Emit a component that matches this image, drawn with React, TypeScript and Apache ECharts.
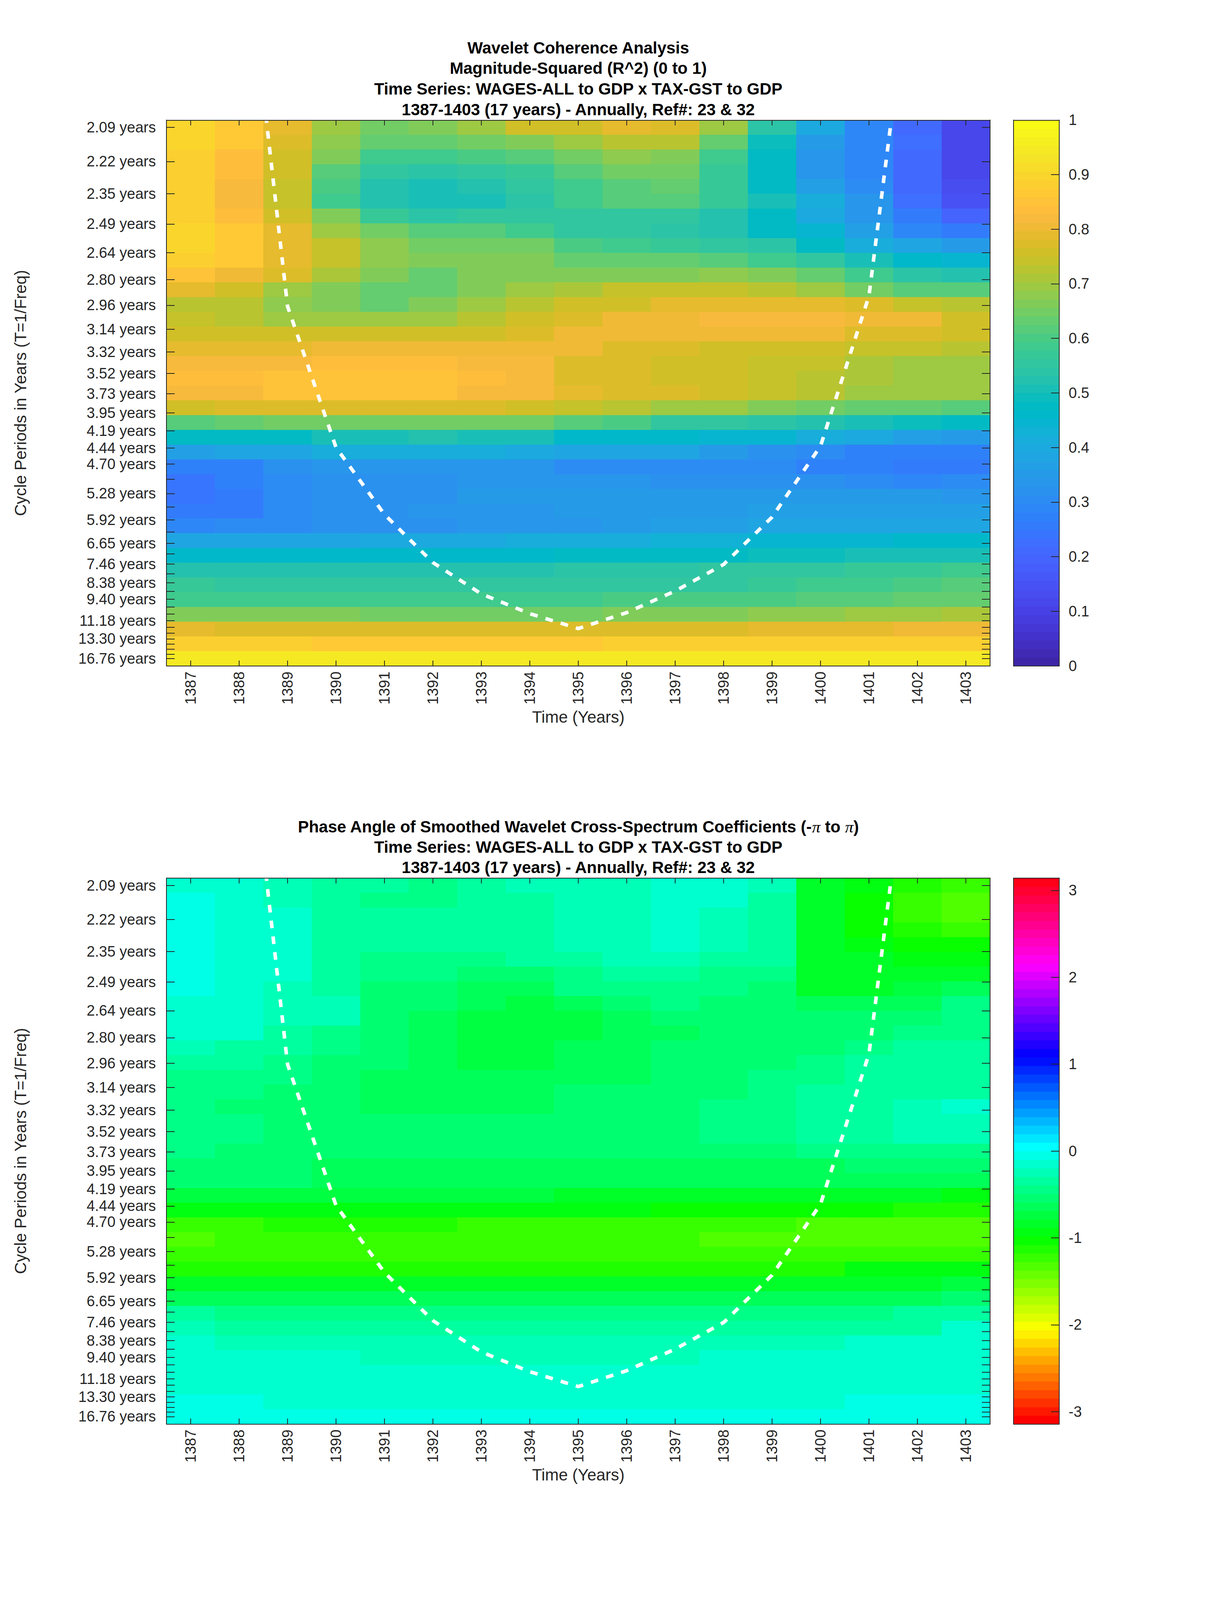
import React, { useEffect, useRef } from 'react';
import * as echarts from 'echarts';

// ---------- data ----------
const YEARS = [1387, 1388, 1389, 1390, 1391, 1392, 1393, 1394, 1395, 1396, 1397, 1398, 1399, 1400, 1401, 1402, 1403];

// wavelet scale periods (years), top (short) to bottom (long)
const PERIODS = [
  2.0945, 2.2190, 2.3510, 2.4908, 2.6389, 2.7958, 2.9621, 3.1382, 3.3248, 3.5225,
  3.7320, 3.9539, 4.1890, 4.4381, 4.7020, 4.9816, 5.2778, 5.5917, 5.9241, 6.2764,
  6.6497, 7.0450, 7.4640, 7.9080, 8.3780, 8.8762, 9.4041, 9.9634, 10.5556, 11.1833,
  11.8483, 12.5528, 13.2993, 14.0901, 14.9279, 15.8157, 16.7560,
];
// indices of the periods that carry a tick label
const LABELED = [0, 1, 2, 3, 4, 5, 6, 7, 8, 9, 10, 11, 12, 13, 14, 16, 18, 20, 22, 24, 26, 29, 32, 36];

const COH_TICKS = [0, 0.1, 0.2, 0.3, 0.4, 0.5, 0.6, 0.7, 0.8, 0.9, 1];
const PHASE_TICKS = [-3, -2, -1, 0, 1, 2, 3];

// cone of influence (period in years at each time)
const COI_YEARS = [1387, 1388, 1389, 1390, 1391, 1392, 1393, 1394, 1395, 1396, 1397, 1398, 1399, 1400, 1401, 1402, 1403];
const COI_PERIODS = [0.75, 1.49, 2.97, 4.43, 5.78, 7.40, 9.05, 10.53, 12.01, 10.44, 8.87, 7.48, 5.85, 4.41, 2.90, 1.55, 0.78];

// magnitude-squared coherence, rows = periods (top to bottom), cols = years
const COHERENCE = [
  [0.90, 0.86, 0.79, 0.70, 0.65, 0.67, 0.70, 0.75, 0.76, 0.79, 0.77, 0.70, 0.54, 0.40, 0.29, 0.21, 0.12],
  [0.90, 0.86, 0.77, 0.68, 0.63, 0.63, 0.65, 0.67, 0.70, 0.72, 0.72, 0.63, 0.49, 0.35, 0.29, 0.22, 0.12],
  [0.89, 0.84, 0.76, 0.67, 0.58, 0.58, 0.60, 0.62, 0.65, 0.68, 0.67, 0.59, 0.47, 0.34, 0.29, 0.21, 0.12],
  [0.89, 0.84, 0.76, 0.62, 0.55, 0.54, 0.55, 0.57, 0.61, 0.65, 0.65, 0.57, 0.47, 0.34, 0.29, 0.21, 0.12],
  [0.89, 0.82, 0.74, 0.60, 0.53, 0.51, 0.52, 0.56, 0.59, 0.61, 0.63, 0.57, 0.48, 0.37, 0.31, 0.21, 0.13],
  [0.89, 0.82, 0.74, 0.59, 0.53, 0.50, 0.51, 0.54, 0.58, 0.61, 0.61, 0.57, 0.51, 0.42, 0.34, 0.23, 0.15],
  [0.89, 0.84, 0.76, 0.66, 0.57, 0.54, 0.56, 0.56, 0.56, 0.56, 0.56, 0.53, 0.48, 0.40, 0.34, 0.25, 0.19],
  [0.90, 0.86, 0.79, 0.70, 0.65, 0.61, 0.61, 0.59, 0.56, 0.55, 0.54, 0.53, 0.47, 0.45, 0.36, 0.29, 0.26],
  [0.90, 0.87, 0.79, 0.74, 0.68, 0.65, 0.65, 0.65, 0.60, 0.58, 0.57, 0.55, 0.54, 0.48, 0.42, 0.38, 0.35],
  [0.89, 0.86, 0.79, 0.74, 0.68, 0.67, 0.67, 0.67, 0.63, 0.63, 0.63, 0.61, 0.59, 0.56, 0.51, 0.46, 0.45],
  [0.85, 0.80, 0.77, 0.71, 0.66, 0.64, 0.67, 0.67, 0.67, 0.67, 0.67, 0.68, 0.66, 0.63, 0.59, 0.54, 0.53],
  [0.79, 0.76, 0.70, 0.67, 0.64, 0.64, 0.67, 0.69, 0.71, 0.74, 0.74, 0.74, 0.73, 0.69, 0.65, 0.62, 0.62],
  [0.73, 0.72, 0.68, 0.66, 0.64, 0.67, 0.69, 0.72, 0.75, 0.76, 0.79, 0.79, 0.79, 0.79, 0.77, 0.74, 0.72],
  [0.74, 0.72, 0.70, 0.70, 0.70, 0.70, 0.73, 0.75, 0.77, 0.80, 0.80, 0.82, 0.82, 0.82, 0.81, 0.80, 0.76],
  [0.75, 0.75, 0.75, 0.75, 0.75, 0.76, 0.76, 0.77, 0.80, 0.80, 0.80, 0.80, 0.80, 0.80, 0.78, 0.77, 0.75],
  [0.79, 0.79, 0.79, 0.80, 0.80, 0.80, 0.80, 0.80, 0.80, 0.78, 0.77, 0.76, 0.75, 0.75, 0.74, 0.74, 0.72],
  [0.82, 0.82, 0.82, 0.84, 0.84, 0.84, 0.82, 0.82, 0.78, 0.77, 0.76, 0.76, 0.74, 0.74, 0.71, 0.70, 0.70],
  [0.83, 0.83, 0.85, 0.85, 0.85, 0.85, 0.83, 0.82, 0.78, 0.77, 0.75, 0.75, 0.74, 0.72, 0.71, 0.70, 0.70],
  [0.82, 0.82, 0.85, 0.85, 0.85, 0.85, 0.82, 0.82, 0.79, 0.78, 0.77, 0.75, 0.74, 0.72, 0.70, 0.70, 0.69],
  [0.75, 0.77, 0.77, 0.77, 0.77, 0.77, 0.77, 0.76, 0.74, 0.72, 0.70, 0.69, 0.67, 0.65, 0.63, 0.63, 0.61],
  [0.61, 0.64, 0.65, 0.65, 0.65, 0.65, 0.65, 0.65, 0.62, 0.60, 0.56, 0.55, 0.54, 0.52, 0.50, 0.49, 0.48],
  [0.47, 0.47, 0.48, 0.50, 0.50, 0.52, 0.50, 0.50, 0.46, 0.46, 0.46, 0.45, 0.44, 0.41, 0.40, 0.37, 0.35],
  [0.36, 0.38, 0.38, 0.41, 0.41, 0.41, 0.41, 0.40, 0.38, 0.38, 0.38, 0.35, 0.32, 0.30, 0.27, 0.27, 0.27],
  [0.28, 0.27, 0.32, 0.33, 0.33, 0.33, 0.33, 0.34, 0.31, 0.31, 0.31, 0.31, 0.30, 0.28, 0.27, 0.25, 0.25],
  [0.24, 0.27, 0.30, 0.32, 0.32, 0.32, 0.33, 0.33, 0.34, 0.34, 0.32, 0.32, 0.32, 0.32, 0.30, 0.29, 0.30],
  [0.24, 0.25, 0.30, 0.32, 0.32, 0.32, 0.35, 0.35, 0.35, 0.35, 0.35, 0.35, 0.35, 0.35, 0.35, 0.35, 0.33],
  [0.26, 0.26, 0.30, 0.32, 0.32, 0.34, 0.34, 0.34, 0.35, 0.35, 0.35, 0.35, 0.37, 0.37, 0.37, 0.37, 0.37],
  [0.29, 0.30, 0.30, 0.32, 0.32, 0.32, 0.34, 0.34, 0.34, 0.35, 0.37, 0.37, 0.39, 0.39, 0.39, 0.39, 0.39],
  [0.39, 0.39, 0.39, 0.39, 0.40, 0.40, 0.40, 0.41, 0.41, 0.41, 0.43, 0.43, 0.45, 0.45, 0.45, 0.46, 0.46],
  [0.46, 0.46, 0.46, 0.46, 0.46, 0.46, 0.46, 0.46, 0.47, 0.47, 0.47, 0.48, 0.49, 0.49, 0.51, 0.51, 0.51],
  [0.52, 0.52, 0.52, 0.52, 0.52, 0.52, 0.52, 0.52, 0.54, 0.54, 0.54, 0.55, 0.56, 0.56, 0.57, 0.57, 0.59],
  [0.57, 0.55, 0.55, 0.55, 0.55, 0.55, 0.55, 0.55, 0.56, 0.56, 0.56, 0.56, 0.57, 0.58, 0.58, 0.60, 0.61],
  [0.59, 0.59, 0.58, 0.58, 0.58, 0.58, 0.58, 0.58, 0.58, 0.60, 0.60, 0.60, 0.60, 0.61, 0.62, 0.64, 0.64],
  [0.67, 0.67, 0.67, 0.67, 0.65, 0.65, 0.65, 0.65, 0.65, 0.67, 0.67, 0.67, 0.68, 0.68, 0.70, 0.70, 0.71],
  [0.79, 0.77, 0.77, 0.77, 0.77, 0.77, 0.77, 0.77, 0.77, 0.77, 0.77, 0.77, 0.79, 0.79, 0.79, 0.81, 0.81],
  [0.88, 0.88, 0.88, 0.87, 0.87, 0.87, 0.87, 0.87, 0.87, 0.88, 0.88, 0.88, 0.88, 0.88, 0.88, 0.88, 0.89],
  [0.94, 0.94, 0.94, 0.94, 0.94, 0.94, 0.94, 0.94, 0.94, 0.94, 0.94, 0.94, 0.94, 0.94, 0.94, 0.94, 0.94],
];

// phase angle (radians), rows = periods (top to bottom), cols = years
const PHASE = [
  [-0.16, -0.18, -0.23, -0.35, -0.35, -0.44, -0.31, -0.27, -0.25, -0.23, -0.16, -0.16, -0.23, -0.80, -0.96, -1.08, -1.20],
  [-0.03, -0.14, -0.23, -0.31, -0.40, -0.40, -0.35, -0.35, -0.25, -0.23, -0.16, -0.16, -0.35, -0.80, -1.00, -1.22, -1.33],
  [-0.03, -0.12, -0.16, -0.31, -0.37, -0.37, -0.37, -0.37, -0.27, -0.27, -0.16, -0.29, -0.35, -0.80, -1.00, -1.20, -1.33],
  [-0.03, -0.12, -0.16, -0.31, -0.37, -0.37, -0.37, -0.37, -0.27, -0.27, -0.16, -0.29, -0.35, -0.82, -1.00, -1.12, -1.20],
  [-0.03, -0.12, -0.16, -0.33, -0.37, -0.37, -0.37, -0.37, -0.27, -0.27, -0.16, -0.29, -0.35, -0.85, -0.92, -1.00, -1.05],
  [-0.03, -0.12, -0.16, -0.33, -0.40, -0.47, -0.47, -0.35, -0.31, -0.29, -0.29, -0.31, -0.35, -0.83, -0.88, -0.96, -0.96],
  [-0.05, -0.12, -0.16, -0.35, -0.42, -0.47, -0.58, -0.56, -0.40, -0.37, -0.37, -0.40, -0.44, -0.80, -0.83, -0.88, -0.88],
  [-0.07, -0.16, -0.29, -0.33, -0.52, -0.54, -0.66, -0.64, -0.47, -0.44, -0.40, -0.47, -0.52, -0.82, -0.80, -0.76, -0.64],
  [-0.16, -0.16, -0.29, -0.29, -0.54, -0.56, -0.68, -0.72, -0.64, -0.52, -0.47, -0.50, -0.56, -0.68, -0.66, -0.62, -0.47],
  [-0.16, -0.16, -0.29, -0.29, -0.58, -0.60, -0.70, -0.70, -0.72, -0.60, -0.54, -0.54, -0.54, -0.54, -0.56, -0.52, -0.44],
  [-0.18, -0.18, -0.35, -0.44, -0.58, -0.62, -0.70, -0.70, -0.70, -0.64, -0.60, -0.54, -0.54, -0.54, -0.52, -0.47, -0.40],
  [-0.23, -0.33, -0.37, -0.45, -0.58, -0.64, -0.70, -0.70, -0.60, -0.60, -0.54, -0.52, -0.52, -0.50, -0.44, -0.37, -0.35],
  [-0.31, -0.31, -0.40, -0.50, -0.56, -0.64, -0.70, -0.70, -0.64, -0.60, -0.52, -0.52, -0.52, -0.40, -0.37, -0.35, -0.31],
  [-0.40, -0.40, -0.47, -0.52, -0.64, -0.64, -0.64, -0.64, -0.64, -0.60, -0.50, -0.50, -0.44, -0.44, -0.37, -0.33, -0.33],
  [-0.44, -0.44, -0.52, -0.52, -0.64, -0.64, -0.64, -0.64, -0.56, -0.56, -0.52, -0.52, -0.44, -0.35, -0.35, -0.35, -0.31],
  [-0.47, -0.54, -0.52, -0.52, -0.64, -0.64, -0.64, -0.64, -0.52, -0.52, -0.52, -0.44, -0.40, -0.31, -0.31, -0.23, -0.16],
  [-0.47, -0.47, -0.52, -0.52, -0.54, -0.54, -0.54, -0.54, -0.52, -0.52, -0.52, -0.44, -0.40, -0.35, -0.33, -0.27, -0.27],
  [-0.45, -0.45, -0.52, -0.52, -0.52, -0.52, -0.52, -0.52, -0.52, -0.52, -0.52, -0.44, -0.40, -0.37, -0.33, -0.29, -0.29],
  [-0.44, -0.52, -0.52, -0.54, -0.54, -0.54, -0.54, -0.54, -0.54, -0.54, -0.54, -0.54, -0.52, -0.44, -0.47, -0.47, -0.47],
  [-0.50, -0.50, -0.50, -0.64, -0.64, -0.64, -0.64, -0.64, -0.64, -0.64, -0.64, -0.64, -0.64, -0.64, -0.52, -0.52, -0.52],
  [-0.52, -0.52, -0.52, -0.66, -0.66, -0.66, -0.66, -0.66, -0.66, -0.66, -0.66, -0.66, -0.66, -0.66, -0.66, -0.66, -0.64],
  [-0.74, -0.74, -0.74, -0.74, -0.74, -0.74, -0.74, -0.74, -0.82, -0.82, -0.82, -0.82, -0.82, -0.82, -0.82, -0.82, -0.92],
  [-0.92, -0.92, -0.92, -0.92, -0.92, -0.92, -0.92, -0.92, -0.92, -0.92, -1.00, -1.00, -1.00, -1.00, -1.00, -1.16, -1.16],
  [-1.25, -1.25, -1.08, -1.08, -1.08, -1.08, -1.20, -1.20, -1.20, -1.20, -1.20, -1.20, -1.20, -1.31, -1.31, -1.31, -1.31],
  [-1.37, -1.25, -1.22, -1.22, -1.22, -1.22, -1.22, -1.22, -1.22, -1.22, -1.22, -1.33, -1.33, -1.33, -1.33, -1.33, -1.33],
  [-1.18, -1.18, -1.18, -1.18, -1.18, -1.18, -1.18, -1.18, -1.18, -1.18, -1.18, -1.18, -1.18, -1.18, -1.18, -1.18, -1.18],
  [-1.08, -1.08, -1.08, -1.08, -1.08, -1.08, -1.08, -1.08, -1.08, -1.08, -1.08, -1.08, -1.08, -1.08, -0.96, -0.96, -0.96],
  [-0.80, -0.80, -0.80, -0.85, -0.85, -0.85, -0.85, -0.85, -0.85, -0.85, -0.85, -0.80, -0.80, -0.80, -0.80, -0.80, -0.72],
  [-0.60, -0.60, -0.60, -0.60, -0.68, -0.68, -0.68, -0.68, -0.68, -0.68, -0.68, -0.62, -0.62, -0.62, -0.62, -0.62, -0.52],
  [-0.31, -0.40, -0.40, -0.40, -0.40, -0.40, -0.40, -0.40, -0.40, -0.40, -0.40, -0.40, -0.40, -0.40, -0.40, -0.33, -0.33],
  [-0.25, -0.31, -0.31, -0.31, -0.31, -0.31, -0.31, -0.31, -0.31, -0.31, -0.31, -0.31, -0.31, -0.31, -0.31, -0.31, -0.16],
  [-0.16, -0.25, -0.25, -0.25, -0.25, -0.25, -0.25, -0.25, -0.25, -0.25, -0.25, -0.25, -0.25, -0.25, -0.16, -0.16, -0.16],
  [-0.16, -0.16, -0.16, -0.16, -0.25, -0.25, -0.25, -0.25, -0.25, -0.25, -0.25, -0.16, -0.16, -0.16, -0.16, -0.16, -0.16],
  [-0.16, -0.16, -0.16, -0.16, -0.16, -0.16, -0.16, -0.16, -0.16, -0.16, -0.16, -0.16, -0.16, -0.16, -0.16, -0.16, -0.16],
  [-0.16, -0.16, -0.16, -0.16, -0.16, -0.16, -0.16, -0.16, -0.16, -0.16, -0.16, -0.16, -0.16, -0.16, -0.16, -0.16, -0.16],
  [-0.07, -0.07, -0.16, -0.16, -0.16, -0.16, -0.16, -0.16, -0.16, -0.16, -0.16, -0.16, -0.16, -0.16, -0.07, -0.07, -0.07],
  [-0.09, -0.09, -0.09, -0.09, -0.09, -0.09, -0.09, -0.09, -0.09, -0.09, -0.09, -0.09, -0.09, -0.09, -0.09, -0.09, -0.09],
];

// parula (64 colours)
const PARULA = [
  '#3e26a8', '#402ab4', '#422ec0', '#4332cb', '#4537d5', '#463cde', '#4741e5', '#4747eb',
  '#484df0', '#4852f4', '#4758f8', '#465efb', '#4563fd', '#4269fe', '#3e6fff', '#3875fe',
  '#327cfc', '#2f81fa', '#2e87f7', '#2d8cf3', '#2b91ef', '#2796eb', '#259be8', '#23a0e5',
  '#20a5e3', '#1ca9df', '#18addb', '#12b1d6', '#08b5d0', '#01b8ca', '#02bac3', '#0bbdbd',
  '#19bfb6', '#24c1ae', '#2cc4a7', '#31c69f', '#37c897', '#3fca8e', '#4acb84', '#57cc7a',
  '#64cd6f', '#72cd64', '#81cc59', '#8fcb4e', '#9dc943', '#abc739', '#b9c431', '#c5c22a',
  '#d1bf27', '#dcbd29', '#e6bb2d', '#f0ba36', '#f8ba3d', '#febe3c', '#fec338', '#fec934',
  '#fccf30', '#fad62d', '#f7dc2a', '#f5e327', '#f5e924', '#f6ef20', '#f7f51b', '#f9fb15',
];

// ---------- layout (reference figure pixels, scaled to the real window) ----------
const REF_W = 3125;
const REF_H = 6252;
const PLOT_L = 426;
const PLOT_W = 2108;
const PLOT_H = 2133;
const TOP1 = 469;
const TOP2 = 3431;
const CB_L = 2594;
const CB_W = 117;
const FONT = '"Liberation Sans", Arial, Helvetica, sans-serif';
const AXC = '#262626';

function hsvHex(h: number): string {
  const i = Math.floor(h * 6) % 6;
  const f = h * 6 - Math.floor(h * 6);
  const q = 1 - f;
  let r = 0, g = 0, b = 0;
  if (i === 0) { r = 1; g = f; b = 0; }
  else if (i === 1) { r = q; g = 1; b = 0; }
  else if (i === 2) { r = 0; g = 1; b = f; }
  else if (i === 3) { r = 0; g = q; b = 1; }
  else if (i === 4) { r = f; g = 0; b = 1; }
  else { r = 1; g = 0; b = q; }
  const hx = (v: number) => Math.round(v * 255).toString(16).padStart(2, '0');
  return '#' + hx(r) + hx(g) + hx(b);
}

export default function App() {
  const ref = useRef<HTMLDivElement>(null);
  const vw = typeof window !== 'undefined' ? Math.min(window.innerWidth || REF_W, REF_W) : REF_W;
  const vh = typeof window !== 'undefined' ? Math.min(window.innerHeight || REF_H, REF_H) : REF_H;

  useEffect(() => {
    if (!ref.current) return;
    const chart = echarts.init(ref.current, null, { renderer: 'svg' });

    const sx = vw / REF_W;
    const sy = vh / REF_H;
    const X = (v: number) => v * sx;
    const Y = (v: number) => v * sy;
    const F = (v: number) => v * sy;

    const freqs = PERIODS.map((p) => 1 / p);
    const f0 = freqs[0];
    const fN = freqs[freqs.length - 1];
    const rowH = (f0 - fN) / (PERIODS.length - 1);
    const fMax = f0 + rowH / 2;
    const fMin = fN - rowH / 2;
    const labeledFreqs = LABELED.map((i) => freqs[i]);

    const periodLabel = (v: number) => {
      let best = 0;
      for (let i = 1; i < freqs.length; i++) {
        if (Math.abs(freqs[i] - v) < Math.abs(freqs[best] - v)) best = i;
      }
      return PERIODS[best].toFixed(2) + ' years';
    };

    const heatData = (rows: number[][]) => {
      const out: number[][] = [];
      rows.forEach((row, i) => {
        row.forEach((v, j) => {
          out.push([YEARS[j], f0 - i * rowH, v]);
        });
      });
      return out;
    };

    const cbData = (min: number, max: number) => {
      const out: number[][] = [];
      const n = 64;
      for (let j = 0; j < n; j++) {
        const lo = min + (j * (max - min)) / n;
        const hi = min + ((j + 1) * (max - min)) / n;
        out.push([0.5, (lo + hi) / 2, (lo + hi) / 2, lo, hi]);
      }
      return out;
    };

    const heatRender = (params: any, api: any) => {
      const x = api.value(0);
      const y = api.value(1);
      const a = api.coord([x - 0.5, y + rowH / 2]);
      const b = api.coord([x + 0.5, y - rowH / 2]);
      return {
        type: 'rect',
        shape: { x: a[0], y: a[1], width: b[0] - a[0] + 0.8, height: b[1] - a[1] + 0.8 },
        style: { fill: api.visual('color'), stroke: null },
      };
    };

    const cbRender = (params: any, api: any) => {
      const a = api.coord([0, api.value(4)]);
      const b = api.coord([1, api.value(3)]);
      return {
        type: 'rect',
        shape: { x: a[0], y: a[1], width: b[0] - a[0], height: b[1] - a[1] + 0.8 },
        style: { fill: api.visual('color'), stroke: null },
      };
    };

    const lineStyle = { color: AXC, width: 2 };
    const labelStyle = { fontSize: F(58), color: AXC, fontFamily: FONT };

    const heatX = (gridIndex: number, position: string) => ({
      type: 'value',
      gridIndex,
      position,
      min: 1386.5,
      max: 1403.5,
      z: 10,
      axisLine: { show: true, onZero: false, lineStyle },
      axisTick: { show: true, inside: true, length: Y(21), customValues: YEARS, lineStyle },
      axisLabel:
        position === 'bottom'
          ? {
              show: true, customValues: YEARS, rotate: 90, margin: Y(22),
              formatter: (v: number) => String(Math.round(v)), ...labelStyle,
            }
          : { show: false },
      splitLine: { show: false },
    });

    const heatY = (gridIndex: number, position: string) => ({
      type: 'value',
      gridIndex,
      position,
      min: fMin,
      max: fMax,
      z: 10,
      axisLine: { show: true, onZero: false, lineStyle },
      axisTick: { show: true, inside: true, length: X(21), customValues: freqs, lineStyle },
      axisLabel:
        position === 'left'
          ? { show: true, customValues: labeledFreqs, margin: X(27), formatter: periodLabel, ...labelStyle }
          : { show: false },
      splitLine: { show: false },
    });

    const cbX = (gridIndex: number, position: string) => ({
      type: 'value',
      gridIndex,
      position,
      min: 0,
      max: 1,
      z: 10,
      axisLine: { show: true, onZero: false, lineStyle },
      axisTick: { show: false },
      axisLabel: { show: false },
      splitLine: { show: false },
    });

    const cbY = (gridIndex: number, position: string, min: number, max: number, ticks: number[]) => ({
      type: 'value',
      gridIndex,
      position,
      min,
      max,
      z: 10,
      axisLine: { show: true, onZero: false, lineStyle },
      axisTick:
        position === 'right'
          ? { show: true, inside: true, length: X(21), customValues: ticks, lineStyle }
          : { show: false },
      axisLabel:
        position === 'right'
          ? { show: true, customValues: ticks, margin: X(24), formatter: (v: number) => String(v), ...labelStyle }
          : { show: false },
      splitLine: { show: false },
    });

    const coiData = COI_YEARS.map((y, i) => [y, 1 / COI_PERIODS[i]]);
    const coiSeries = (axisIndex: number) => ({
      type: 'line',
      xAxisIndex: axisIndex,
      yAxisIndex: axisIndex,
      data: coiData,
      symbol: 'none',
      clip: true,
      z: 5,
      silent: true,
      lineStyle: { color: '#ffffff', width: Math.max(4, 11 * (sx + sy) / 2), type: [Y(30), Y(32)] },
    });

    const titleText = (text: string, y: number) => ({
      type: 'text',
      x: X(PLOT_L + PLOT_W / 2),
      y: Y(y),
      style: {
        text,
        fill: '#000000',
        fontSize: F(64),
        fontWeight: 'bold',
        fontFamily: FONT,
        textAlign: 'center',
        textVerticalAlign: 'middle',
      },
    });

    const axisNameText = (text: string, x: number, y: number, rotation: number) => ({
      type: 'text',
      x: X(x),
      y: Y(y),
      rotation,
      style: {
        text,
        fill: AXC,
        fontSize: F(64),
        fontFamily: FONT,
        textAlign: 'center',
        textVerticalAlign: 'middle',
      },
    });

    const cohPieces = PARULA.map((c, j) => ({ gte: j / 64, lt: (j + 1) / 64 + (j === 63 ? 1e-9 : 0), color: c }));
    const phasePieces = [] as any[];
    for (let j = 0; j < 64; j++) {
      phasePieces.push({
        gte: -Math.PI + (j * 2 * Math.PI) / 64,
        lt: -Math.PI + ((j + 1) * 2 * Math.PI) / 64 + (j === 63 ? 1e-9 : 0),
        color: hsvHex(j / 64),
      });
    }

    const option: any = {
      animation: false,
      backgroundColor: '#ffffff',
      grid: [
        { left: X(PLOT_L), top: Y(TOP1), width: X(PLOT_W), height: Y(PLOT_H) },
        { left: X(CB_L), top: Y(TOP1), width: X(CB_W), height: Y(PLOT_H) },
        { left: X(PLOT_L), top: Y(TOP2), width: X(PLOT_W), height: Y(PLOT_H) },
        { left: X(CB_L), top: Y(TOP2), width: X(CB_W), height: Y(PLOT_H) },
      ],
      xAxis: [
        heatX(0, 'bottom'), heatX(0, 'top'),
        cbX(1, 'bottom'), cbX(1, 'top'),
        heatX(2, 'bottom'), heatX(2, 'top'),
        cbX(3, 'bottom'), cbX(3, 'top'),
      ],
      yAxis: [
        heatY(0, 'left'), heatY(0, 'right'),
        cbY(1, 'left', 0, 1, COH_TICKS), cbY(1, 'right', 0, 1, COH_TICKS),
        heatY(2, 'left'), heatY(2, 'right'),
        cbY(3, 'left', -Math.PI, Math.PI, PHASE_TICKS), cbY(3, 'right', -Math.PI, Math.PI, PHASE_TICKS),
      ],
      visualMap: [
        { type: 'piecewise', show: false, seriesIndex: [0, 1], dimension: 2, pieces: cohPieces },
        { type: 'piecewise', show: false, seriesIndex: [3, 4], dimension: 2, pieces: phasePieces },
      ],
      series: [
        {
          type: 'custom', xAxisIndex: 0, yAxisIndex: 0, renderItem: heatRender, clip: true,
          dimensions: ['x', 'y', 'v'], encode: { x: 0, y: 1 }, data: heatData(COHERENCE), silent: true,
        },
        {
          type: 'custom', xAxisIndex: 2, yAxisIndex: 2, renderItem: cbRender, clip: true,
          dimensions: ['x', 'y', 'v', 'lo', 'hi'], encode: { x: 0, y: 1 }, data: cbData(0, 1), silent: true,
        },
        coiSeries(0),
        {
          type: 'custom', xAxisIndex: 4, yAxisIndex: 4, renderItem: heatRender, clip: true,
          dimensions: ['x', 'y', 'v'], encode: { x: 0, y: 1 }, data: heatData(PHASE), silent: true,
        },
        {
          type: 'custom', xAxisIndex: 6, yAxisIndex: 6, renderItem: cbRender, clip: true,
          dimensions: ['x', 'y', 'v', 'lo', 'hi'], encode: { x: 0, y: 1 }, data: cbData(-Math.PI, Math.PI), silent: true,
        },
        coiSeries(4),
      ],
      graphic: [
        titleText('Wavelet Coherence Analysis', 187),
        titleText('Magnitude-Squared (R^2) (0 to 1)', 267),
        titleText('Time Series: WAGES-ALL to GDP x TAX-GST to GDP', 348),
        titleText('1387-1403 (17 years) - Annually, Ref#: 23 & 32', 428),
        {
          type: 'text',
          x: X(PLOT_L + PLOT_W / 2),
          y: Y(3230),
          style: {
            text: '{b|Phase Angle of Smoothed Wavelet Cross-Spectrum Coefficients (-}{p|π}{b| to }{p|π}{b|)}',
            textAlign: 'center',
            textVerticalAlign: 'middle',
            rich: {
              b: { fontSize: F(64), fontWeight: 'bold', fontFamily: FONT, fill: '#000000', color: '#000000' },
              p: {
                fontSize: F(66), fontStyle: 'italic', fontFamily: '"Liberation Serif", "DejaVu Serif", serif',
                fill: '#000000', color: '#000000',
              },
            },
          },
        },
        titleText('Time Series: WAGES-ALL to GDP x TAX-GST to GDP', 3310),
        titleText('1387-1403 (17 years) - Annually, Ref#: 23 & 32', 3390),
        axisNameText('Cycle Periods in Years (T=1/Freq)', 52, TOP1 + PLOT_H / 2, Math.PI / 2),
        axisNameText('Cycle Periods in Years (T=1/Freq)', 52, TOP2 + PLOT_H / 2, Math.PI / 2),
        axisNameText('Time (Years)', PLOT_L + PLOT_W / 2, TOP1 + PLOT_H + 199, 0),
        axisNameText('Time (Years)', PLOT_L + PLOT_W / 2, TOP2 + PLOT_H + 199, 0),
      ],
    };

    chart.setOption(option);
    return () => chart.dispose();
  }, [vw, vh]);

  return (
    <div
      ref={ref}
      style={{ position: 'absolute', left: 0, top: 0, width: vw, height: vh, background: '#ffffff', overflow: 'hidden' }}
    />
  );
}
